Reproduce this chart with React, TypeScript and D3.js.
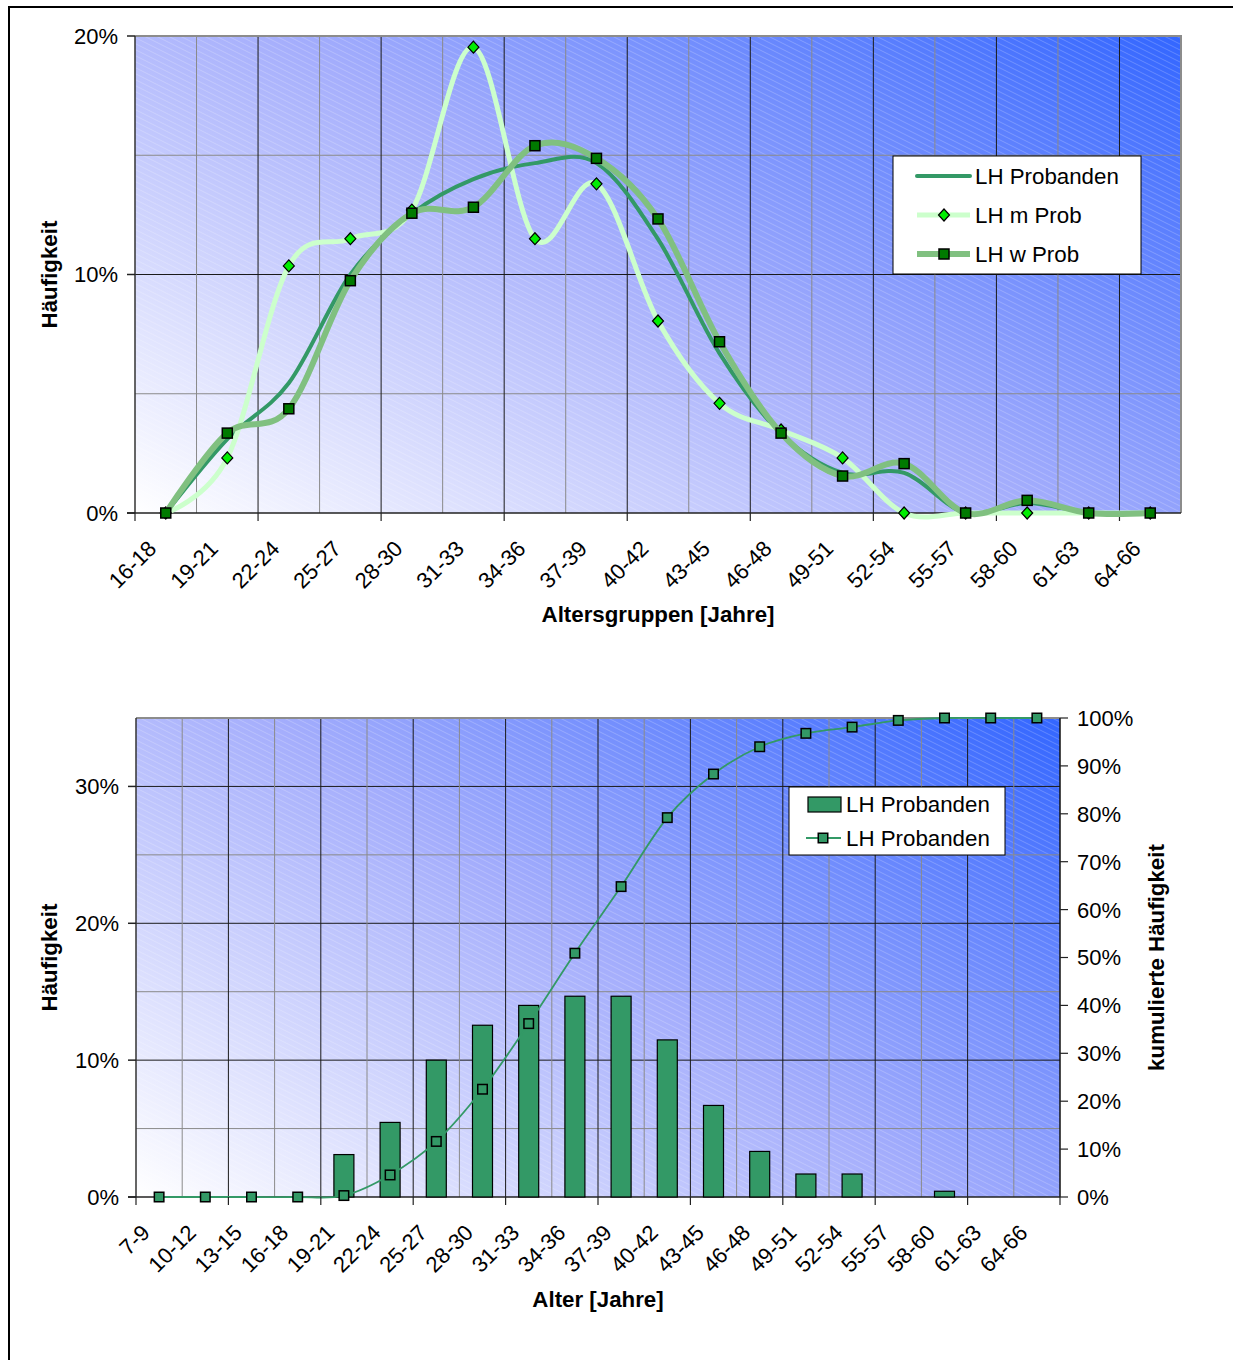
import React from "react";
import * as d3 from "d3";

// ---- data -------------------------------------------------------------
const ageGroups = ["16-18", "19-21", "22-24", "25-27", "28-30", "31-33", "34-36", "37-39", "40-42", "43-45", "46-48", "49-51", "52-54", "55-57", "58-60", "61-63", "64-66"];
const lhProbanden = [0, 3.1, 5.45, 10.0, 12.55, 14.0, 14.67, 14.67, 11.48, 6.69, 3.33, 1.68, 1.68, 0, 0.42, 0, 0];
const lhMProb = [0, 2.31, 10.36, 11.5, 12.7, 19.53, 11.5, 13.8, 8.05, 4.6, 3.48, 2.31, 0, 0, 0, 0, 0];
const lhWProb = [0, 3.35, 4.37, 9.74, 12.57, 12.82, 15.4, 14.87, 12.33, 7.18, 3.35, 1.55, 2.07, 0, 0.53, 0, 0];
const topYTicks = [0, 10, 20];

const ageGroupsAll = ["7-9", "10-12", "13-15", "16-18", "19-21", "22-24", "25-27", "28-30", "31-33", "34-36", "37-39", "40-42", "43-45", "46-48", "49-51", "52-54", "55-57", "58-60", "61-63", "64-66"];
const barValues = [0, 0, 0, 0, 3.1, 5.45, 10.0, 12.55, 14.0, 14.67, 14.67, 11.48, 6.69, 3.33, 1.68, 1.68, 0, 0.42, 0, 0];
const cumulative = [0, 0, 0, 0, 0.3, 4.6, 11.6, 22.5, 36.2, 50.9, 64.8, 79.2, 88.3, 94.0, 96.8, 98.1, 99.5, 100, 100, 100];
const leftYTicks = [0, 10, 20, 30];
const rightYTicks = [0, 10, 20, 30, 40, 50, 60, 70, 80, 90, 100];

// ---- styling ----------------------------------------------------------
const FONT = "'Liberation Sans', Arial, Helvetica, sans-serif";
const C_DARK = "#339966";
const C_LIGHT = "#ccffcc";
const C_MID = "#80c080";
const GRID_MAJOR = "#1a1a1a";
const GRID_MINOR = "#8a8a8a";

const TICK_FS = 22;
const LEGEND_FS = 22.3;
const TITLE_FS = 22.3;

type Box = { left: number; right: number; top: number; bottom: number };

const topBox: Box = { left: 135, right: 1181, top: 36, bottom: 513 };
const botBox: Box = { left: 136, right: 1060, top: 718, bottom: 1197 };

function PlotBackground({ box, id }: { box: Box; id: string }) {
  const w = box.right - box.left;
  const h = box.bottom - box.top;
  // gradient runs from the lower-left corner towards the upper-right corner,
  // tilted so the upper-left corner sits a little below the midpoint
  const b = 1;
  const a = (1.38 * h) / w;
  const len = Math.hypot(a, b);
  const ux = a / len;
  const uy = -b / len;
  const proj = w * ux + -h * uy;
  return (
    <g>
      <defs>
        <linearGradient
          id={`grad-${id}`}
          gradientUnits="userSpaceOnUse"
          x1={box.left}
          y1={box.bottom}
          x2={box.left + ux * proj}
          y2={box.bottom + uy * proj}
        >
          <stop offset="0" stopColor="#ffffff" />
          <stop offset="0.5" stopColor="#a5aefc" />
          <stop offset="1" stopColor="#3366ff" />
        </linearGradient>
        <pattern id={`hatch-${id}`} patternUnits="userSpaceOnUse" width={12} height={6}>
          <line x1={-12} y1={-6} x2={24} y2={12} stroke="#ffffff" strokeOpacity={0.2} strokeWidth={1} />
          <line x1={-12} y1={0} x2={12} y2={12} stroke="#ffffff" strokeOpacity={0.2} strokeWidth={1} />
          <line x1={0} y1={-6} x2={24} y2={6} stroke="#ffffff" strokeOpacity={0.2} strokeWidth={1} />
        </pattern>
      </defs>
      <rect x={box.left} y={box.top} width={w} height={h} fill={`url(#grad-${id})`} />
      <rect x={box.left} y={box.top} width={w} height={h} fill={`url(#hatch-${id})`} />
    </g>
  );
}

function CategoryLabels({ x, cats, axisY }: { x: d3.ScaleBand<string>; cats: string[]; axisY: number }) {
  const bw = x.bandwidth();
  return (
    <g fontFamily={FONT} fontSize={TICK_FS} fill="#000">
      {cats.map((c) => {
        const cx = (x(c) as number) + bw / 2 - 8;
        const cy = axisY + 37;
        return (
          <text key={c} textAnchor="end" transform={`translate(${cx},${cy}) rotate(-45)`}>
            {c}
          </text>
        );
      })}
    </g>
  );
}

function Diamond({ cx, cy, r = 6 }: { cx: number; cy: number; r?: number }) {
  return (
    <path
      d={`M${cx},${cy - r}L${cx + r - 0.5},${cy}L${cx},${cy + r}L${cx - r + 0.5},${cy}Z`}
      fill="#00ee00"
      stroke="#000"
      strokeWidth={1.2}
    />
  );
}

function Square({ cx, cy, s, fill }: { cx: number; cy: number; s: number; fill: string }) {
  return <rect x={cx - s / 2} y={cy - s / 2} width={s} height={s} fill={fill} stroke="#000" strokeWidth={1.5} />;
}

function TopChart() {
  const box = topBox;
  const x = d3.scaleBand<string>().domain(ageGroups).range([box.left, box.right]).padding(0);
  const y = d3.scaleLinear().domain([0, 20]).range([box.bottom, box.top]);
  const bw = x.bandwidth();
  const cx = (i: number) => (x(ageGroups[i]) as number) + bw / 2;
  const line = d3
    .line<number>()
    .x((_, i) => cx(i))
    .y((v) => y(v))
    .curve(d3.curveCardinal.tension(0));

  const boundaries = d3.range(1, ageGroups.length);
  const hLines = [5, 10, 15];

  return (
    <g>
      <PlotBackground box={box} id="top" />
      {hLines.map((v) => (
        <line
          key={v}
          x1={box.left}
          x2={box.right}
          y1={y(v)}
          y2={y(v)}
          stroke={v % 10 === 0 ? GRID_MAJOR : GRID_MINOR}
          strokeWidth={1}
        />
      ))}
      {boundaries.map((i) => {
        const xx = box.left + i * bw;
        return (
          <line key={i} x1={xx} x2={xx} y1={box.top} y2={box.bottom} stroke={i % 2 === 0 ? GRID_MAJOR : GRID_MINOR} strokeWidth={1} />
        );
      })}
      {/* frame */}
      <line x1={box.left} x2={box.right + 1} y1={box.top} y2={box.top} stroke="#8c8c8c" strokeWidth={2} />
      <line x1={box.right} x2={box.right} y1={box.top} y2={box.bottom} stroke="#8c8c8c" strokeWidth={2} />
      <line x1={box.left} x2={box.left} y1={box.top} y2={box.bottom} stroke="#333" strokeWidth={1.5} />
      <line x1={box.left - 8} x2={box.right} y1={box.bottom} y2={box.bottom} stroke="#222" strokeWidth={1.5} />
      {/* y ticks */}
      {topYTicks.map((v) => (
        <g key={v}>
          <line x1={box.left - 8} x2={box.left} y1={y(v)} y2={y(v)} stroke="#222" strokeWidth={1.5} />
          <text x={box.left - 17} y={y(v)} dy="0.36em" textAnchor="end" fontFamily={FONT} fontSize={TICK_FS}>
            {v}%
          </text>
        </g>
      ))}
      {/* x ticks every second category */}
      {d3.range(0, ageGroups.length + 1, 2).map((i) => (
        <line key={i} x1={box.left + i * bw} x2={box.left + i * bw} y1={box.bottom} y2={box.bottom + 8} stroke="#222" strokeWidth={1.2} />
      ))}
      <CategoryLabels x={x} cats={ageGroups} axisY={box.bottom} />

      {/* series */}
      <path d={line(lhProbanden) || ""} fill="none" stroke={C_DARK} strokeWidth={4} strokeLinejoin="round" />
      <path d={line(lhMProb) || ""} fill="none" stroke={C_LIGHT} strokeWidth={5} strokeLinejoin="round" />
      {lhMProb.map((v, i) => (
        <Diamond key={i} cx={cx(i)} cy={y(v)} />
      ))}
      <path d={line(lhWProb) || ""} fill="none" stroke={C_MID} strokeWidth={6} strokeLinejoin="round" />
      {lhWProb.map((v, i) => (
        <Square key={i} cx={cx(i)} cy={y(v)} s={10} fill="#007a00" />
      ))}

      {/* legend */}
      <g fontFamily={FONT} fontSize={LEGEND_FS}>
        <rect x={893} y={156} width={248} height={118} fill="#fff" stroke="#000" strokeWidth={1} />
        <line x1={917} x2={970} y1={176} y2={176} stroke={C_DARK} strokeWidth={4} strokeLinecap="round" />
        <text x={975} y={176} dy="0.36em">LH Probanden</text>
        <line x1={917} x2={970} y1={215} y2={215} stroke={C_LIGHT} strokeWidth={5} />
        <Diamond cx={944} cy={215} />
        <text x={975} y={215} dy="0.36em">LH m Prob</text>
        <line x1={917} x2={970} y1={254} y2={254} stroke={C_MID} strokeWidth={6} />
        <Square cx={944} cy={254} s={10} fill="#007a00" />
        <text x={975} y={254} dy="0.36em">LH w Prob</text>
      </g>

      {/* titles */}
      <text x={(box.left + box.right) / 2} y={622} textAnchor="middle" fontFamily={FONT} fontWeight="bold" fontSize={TITLE_FS}>
        Altersgruppen [Jahre]
      </text>
      <text
        transform={`translate(57,${(box.top + box.bottom) / 2}) rotate(-90)`}
        textAnchor="middle"
        fontFamily={FONT}
        fontWeight="bold"
        fontSize={TITLE_FS}
      >
        Häufigkeit
      </text>
    </g>
  );
}

function BottomChart() {
  const box = botBox;
  const x = d3.scaleBand<string>().domain(ageGroupsAll).range([box.left, box.right]).padding(0);
  const y = d3.scaleLinear().domain([0, 35]).range([box.bottom, box.top]);
  const yR = d3.scaleLinear().domain([0, 100]).range([box.bottom, box.top]);
  const bw = x.bandwidth();
  const cx = (i: number) => (x(ageGroupsAll[i]) as number) + bw / 2;
  const barW = 20;
  const cumLine = d3
    .line<number>()
    .x((_, i) => cx(i))
    .y((v) => yR(v))
    .curve(d3.curveCardinal.tension(0));

  const boundaries = d3.range(1, ageGroupsAll.length);
  const hLines = [5, 10, 15, 20, 25, 30];

  return (
    <g>
      <PlotBackground box={box} id="bot" />
      {hLines.map((v) => (
        <line key={v} x1={box.left} x2={box.right} y1={y(v)} y2={y(v)} stroke={v % 10 === 0 ? GRID_MAJOR : GRID_MINOR} strokeWidth={1} />
      ))}
      {boundaries.map((i) => {
        const xx = box.left + i * bw;
        return <line key={i} x1={xx} x2={xx} y1={box.top} y2={box.bottom} stroke={i % 2 === 0 ? GRID_MAJOR : GRID_MINOR} strokeWidth={1} />;
      })}
      {/* frame */}
      <line x1={box.left} x2={box.right} y1={box.top} y2={box.top} stroke="#8c8c8c" strokeWidth={2} />
      <line x1={box.left} x2={box.left} y1={box.top} y2={box.bottom} stroke="#333" strokeWidth={1.5} />
      <line x1={box.right} x2={box.right} y1={box.top} y2={box.bottom} stroke="#111" strokeWidth={1.5} />
      <line x1={box.left - 8} x2={box.right} y1={box.bottom} y2={box.bottom} stroke="#222" strokeWidth={1.5} />

      {/* bars */}
      {barValues.map((v, i) =>
        v > 0 ? (
          <rect key={i} x={cx(i) - barW / 2} y={y(v)} width={barW} height={y(0) - y(v)} fill={C_DARK} stroke="#000" strokeWidth={1.2} />
        ) : null
      )}

      {/* cumulative */}
      <path d={cumLine(cumulative) || ""} fill="none" stroke={C_DARK} strokeWidth={1.8} />
      {cumulative.map((v, i) => (
        <Square key={i} cx={cx(i)} cy={yR(v)} s={9.5} fill={C_DARK} />
      ))}

      {/* left ticks */}
      {leftYTicks.map((v) => (
        <g key={v}>
          <line x1={box.left - 8} x2={box.left} y1={y(v)} y2={y(v)} stroke="#222" strokeWidth={1.5} />
          <text x={box.left - 17} y={y(v)} dy="0.36em" textAnchor="end" fontFamily={FONT} fontSize={TICK_FS}>
            {v}%
          </text>
        </g>
      ))}
      {/* right ticks */}
      {rightYTicks.map((v) => (
        <g key={v}>
          <line x1={box.right} x2={box.right + 8} y1={yR(v)} y2={yR(v)} stroke="#222" strokeWidth={1.2} />
          <text x={box.right + 17} y={yR(v)} dy="0.36em" textAnchor="start" fontFamily={FONT} fontSize={TICK_FS}>
            {v}%
          </text>
        </g>
      ))}
      {/* x ticks */}
      {d3.range(0, ageGroupsAll.length + 1, 2).map((i) => (
        <line key={i} x1={box.left + i * bw} x2={box.left + i * bw} y1={box.bottom} y2={box.bottom + 8} stroke="#222" strokeWidth={1.2} />
      ))}
      <CategoryLabels x={x} cats={ageGroupsAll} axisY={box.bottom} />

      {/* legend */}
      <g fontFamily={FONT} fontSize={LEGEND_FS}>
        <rect x={789} y={787} width={216} height={68} fill="#fff" stroke="#000" strokeWidth={1} />
        <rect x={808} y={797} width={33} height={15} fill={C_DARK} stroke="#000" strokeWidth={1.2} />
        <text x={846} y={804} dy="0.36em">LH Probanden</text>
        <line x1={806} x2={841} y1={838} y2={838} stroke={C_DARK} strokeWidth={1.8} />
        <Square cx={823} cy={838} s={9.5} fill={C_DARK} />
        <text x={846} y={838} dy="0.36em">LH Probanden</text>
      </g>

      {/* titles */}
      <text x={(box.left + box.right) / 2} y={1307} textAnchor="middle" fontFamily={FONT} fontWeight="bold" fontSize={TITLE_FS}>
        Alter [Jahre]
      </text>
      <text
        transform={`translate(57,${(box.top + box.bottom) / 2}) rotate(-90)`}
        textAnchor="middle"
        fontFamily={FONT}
        fontWeight="bold"
        fontSize={TITLE_FS}
      >
        Häufigkeit
      </text>
      <text
        transform={`translate(1164,${(box.top + box.bottom) / 2}) rotate(-90)`}
        textAnchor="middle"
        fontFamily={FONT}
        fontWeight="bold"
        fontSize={TITLE_FS}
      >
        kumulierte Häufigkeit
      </text>
    </g>
  );
}

export default function App() {
  return (
    <svg
      width={1233}
      height={1360}
      viewBox="0 0 1233 1360"
      style={{ position: "absolute", left: 0, top: 0, background: "#fff" }}
    >
      <rect x={0} y={0} width={1233} height={1360} fill="#fff" />
      {/* page frame */}
      <line x1={8} x2={1233} y1={7} y2={7} stroke="#000" strokeWidth={2} />
      <line x1={9} x2={9} y1={6} y2={1360} stroke="#000" strokeWidth={2} />
      <TopChart />
      <BottomChart />
    </svg>
  );
}
